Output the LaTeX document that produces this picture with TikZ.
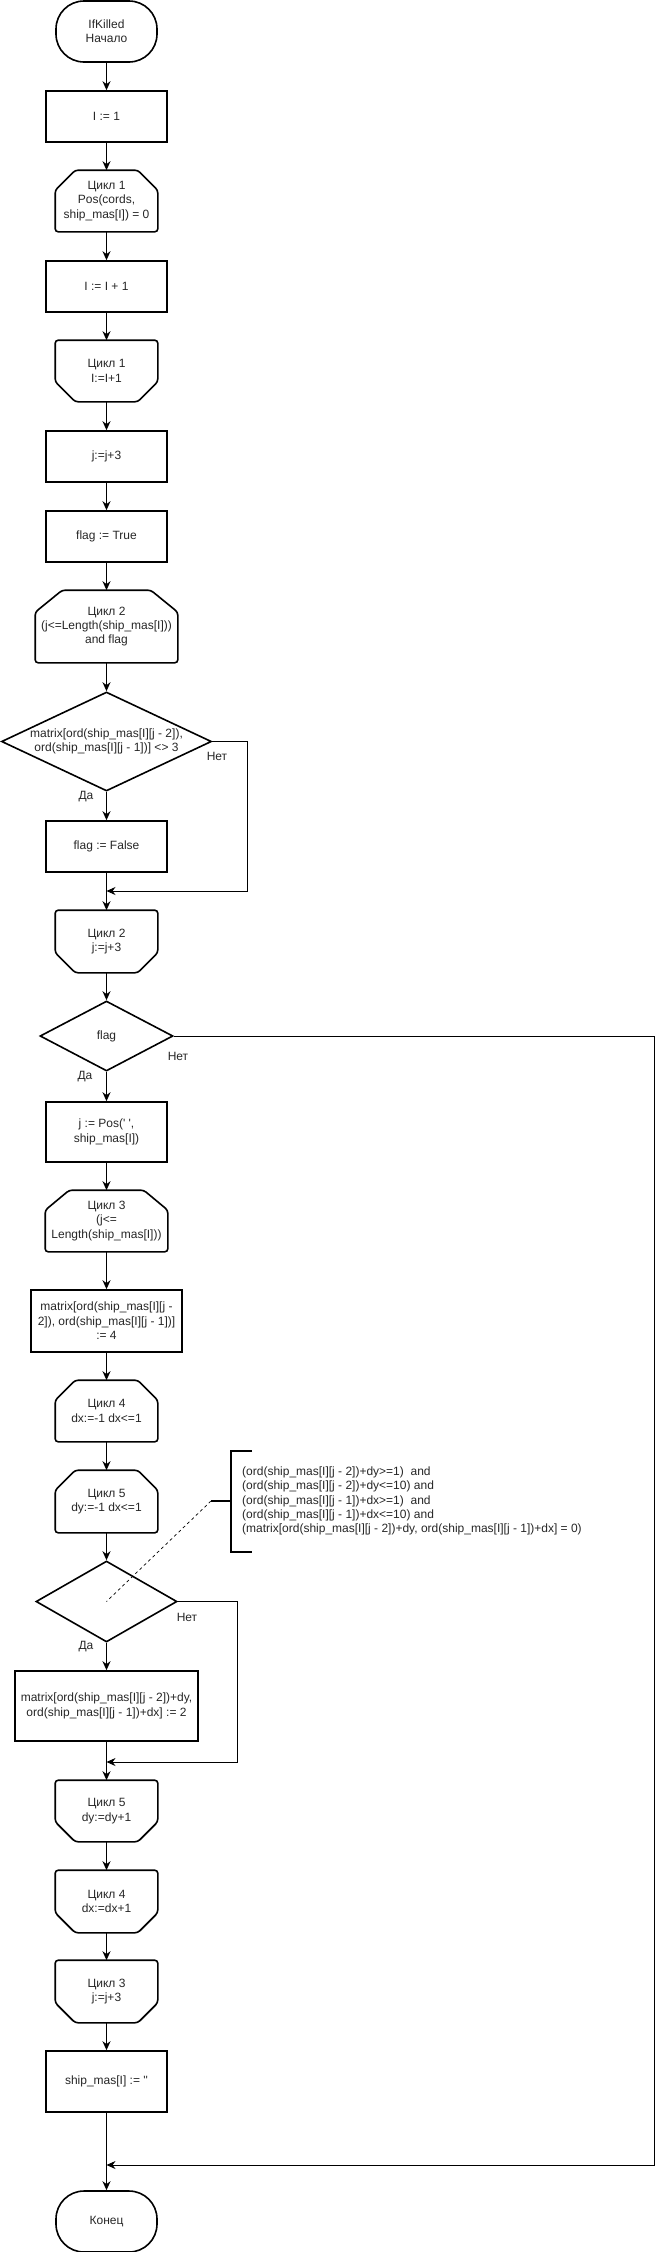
\documentclass[tikz,border=0pt]{standalone}
\usepackage{fontspec}
\setmainfont{Liberation Sans}
\usetikzlibrary{shapes.geometric,arrows.meta}

\tikzset{
  base/.style={line width=1.6pt, inner sep=0pt, align=center,
    text=black!85, font=\fontsize{12}{14.4}\selectfont},
  term/.style={base, draw=black, rectangle, rounded corners=28pt, minimum width=101pt, minimum height=61pt},
  proc/.style={base, draw=black, rectangle, minimum width=121pt, minimum height=51pt},
  loopbox/.style={base, rectangle, minimum width=101pt, minimum height=60pt},
  decision/.style={base, draw=black, diamond},
  outline/.style={line width=1.6pt, rounded corners=3pt},
  line/.style={line width=0.9pt, -{Stealth[length=9pt,width=8pt]}},
  lbl/.style={text=black!85, font=\fontsize{12}{14.4}\selectfont, inner sep=0pt}
}

\begin{document}
\begin{tikzpicture}[x=1pt, y=-1pt]
        % Page
        \useasboundingbox (0,0) rectangle (665,2252);

        % Main column
        \node[term] (start) at (106.5,31.5) {IfKilled\\Начало};
        \node[proc] (i1) at (106.5,116.5) {I := 1};
        \node[loopbox] (c1b) at (106.5,201) {Цикл 1\\Pos(cords,\\ship\_mas[I]) = 0};
        \node[proc] (inc) at (106.5,286.5) {I := I + 1};
        \node[loopbox] (c1e) at (106.5,371) {Цикл 1\\I:=I+1};
        \node[proc] (j3) at (106.5,456.5) {j:=j+3};
        \node[proc] (ftrue) at (106.5,536.5) {flag := True};
        \node[loopbox, minimum width=141pt, minimum height=71pt] (c2b) at (106.5,626.5)
          {Цикл 2\\(j<=Length(ship\_mas[I]))\\and flag};
        \node[decision, minimum width=210pt, minimum height=99pt,
          label={[lbl, align=center]center:matrix[ord(ship\_mas[I][j - 2]),\\ord(ship\_mas[I][j - 1])] <> 3}]
          (d1) at (106.5,741.5) {};
        \node[proc] (ffalse) at (106.5,846.5) {flag := False};
        \node[loopbox, minimum height=61pt] (c2e) at (106.5,941.5) {Цикл 2\\j:=j+3};
        \node[decision, minimum width=133pt, minimum height=70pt] (d2) at (106.5,1036) {flag};
        \node[proc, minimum height=60pt] (jpos) at (106.5,1132) {j := Pos(\textquotesingle\ \textquotesingle,\\ship\_mas[I])};
        \node[loopbox, minimum width=121pt] (c3b) at (106.5,1221)
          {Цикл 3\\(j<=\\Length(ship\_mas[I]))};
        \node[proc, minimum width=151pt, minimum height=62pt] (mat4) at (106.5,1321)
          {matrix[ord(ship\_mas[I][j -\\2]), ord(ship\_mas[I][j - 1])]\\:= 4};
        \node[loopbox] (c4b) at (106.5,1411) {Цикл 4\\dx:=-1 dx<=1};
        \node[loopbox, minimum height=61pt] (c5b) at (106.5,1501.5) {Цикл 5\\dy:=-1 dx<=1};
        \node[decision, minimum width=141pt, minimum height=81pt] (d3) at (106.5,1601.5) {};
        \node[proc, minimum width=183pt, minimum height=70pt] (mat2) at (106.5,1706)
          {matrix[ord(ship\_mas[I][j - 2])+dy,\\ord(ship\_mas[I][j - 1])+dx] := 2};
        \node[loopbox] (c5e) at (106.5,1811) {Цикл 5\\dy:=dy+1};
        \node[loopbox, minimum height=61pt] (c4e) at (106.5,1901.5) {Цикл 4\\dx:=dx+1};
        \node[loopbox, minimum height=61pt] (c3e) at (106.5,1991.5) {Цикл 3\\j:=j+3};
        \node[proc, minimum height=61pt] (clr) at (106.5,2081.5) {ship\_mas[I] := \textquotesingle\textquotesingle};
        \node[term] (stop) at (106.5,2221.5) {Конец};

        % Loop begin outlines (cut top corners)
        \foreach \n/\cx/\cy in {c1b/20/20, c2b/27/22, c3b/24/20, c4b/20/20, c5b/20/20}
          \draw[outline] ([xshift=\cx pt]\n.north west) -- ([xshift=-\cx pt]\n.north east)
            -- ([yshift=-\cy pt]\n.north east) -- (\n.south east) -- (\n.south west)
            -- ([yshift=-\cy pt]\n.north west) -- cycle;

        % Loop end outlines (cut bottom corners)
        \foreach \n/\cx/\cy in {c1e/20/20, c2e/20/20, c5e/20/20, c4e/20/20, c3e/20/20}
          \draw[outline] (\n.north west) -- (\n.north east) -- ([yshift=\cy pt]\n.south east)
            -- ([xshift=-\cx pt]\n.south east) -- ([xshift=\cx pt]\n.south west)
            -- ([yshift=\cy pt]\n.south west) -- cycle;

        % Merge points
        \coordinate (m1) at (106.5,891);
        \coordinate (m2) at (106.5,1762);
        \coordinate (m3) at (106.5,2165);

        % Straight arrows
        \draw[line] (start.south) -- (i1.north);
        \draw[line] (i1.south) -- (c1b.north);
        \draw[line] (c1b.south) -- (inc.north);
        \draw[line] (inc.south) -- (c1e.north);
        \draw[line] (c1e.south) -- (j3.north);
        \draw[line] (j3.south) -- (ftrue.north);
        \draw[line] (ftrue.south) -- (c2b.north);
        \draw[line] (c2b.south) -- (d1.north);
        \draw[line] (d1.south) -- (ffalse.north);
        \draw[line] (ffalse.south) -- (c2e.north);
        \draw[line] (c2e.south) -- (d2.north);
        \draw[line] (d2.south) -- (jpos.north);
        \draw[line] (jpos.south) -- (c3b.north);
        \draw[line] (c3b.south) -- (mat4.north);
        \draw[line] (mat4.south) -- (c4b.north);
        \draw[line] (c4b.south) -- (c5b.north);
        \draw[line] (c5b.south) -- (d3.north);
        \draw[line] (d3.south) -- (mat2.north);
        \draw[line] (mat2.south) -- (c5e.north);
        \draw[line] (c5e.south) -- (c4e.north);
        \draw[line] (c4e.south) -- (c3e.north);
        \draw[line] (c3e.south) -- (clr.north);
        \draw[line] (clr.south) -- (stop.north);

        % "No" branches
        \draw[line] (d1.east) -- ++(35,0) |- (m1);
        \draw[line] (d3.east) -- ++(60,0) |- (m2);
        \draw[line] (d2.east) -- ++(481,0) |- (m3);

        % Branch labels
        \node[lbl] (d1no) at (217,756) {Нет};
        \node[lbl] (d1yes) at (86,797) {Да};
        \node[lbl] (d2no) at (178,1056) {Нет};
        \node[lbl] (d2yes) at (85,1077) {Да};
        \node[lbl] (d3no) at (187,1617) {Нет};
        \node[lbl] (d3yes) at (86,1647) {Да};

        % Condition note
        \node[lbl, anchor=west, align=left] (cond) at (242,1501)
          {(ord(ship\_mas[I][j - 2])+dy>=1)~ and\\
           (ord(ship\_mas[I][j - 2])+dy<=10) and\\
           (ord(ship\_mas[I][j - 1])+dx>=1)~ and\\
           (ord(ship\_mas[I][j - 1])+dx<=10) and\\
           (matrix[ord(ship\_mas[I][j - 2])+dy, ord(ship\_mas[I][j - 1])+dx] = 0)};
        \draw[line width=1.6pt] (252,1451) -- (231,1451) -- (231,1552) -- (252,1552);
        \coordinate (stub) at (211,1501);
        \draw[line width=1.6pt] (stub) -- (231,1501);
        \draw[line width=0.7pt, dash pattern=on 3pt off 3pt] (stub) -- (d3.center);
    \end{tikzpicture}
\end{document}
